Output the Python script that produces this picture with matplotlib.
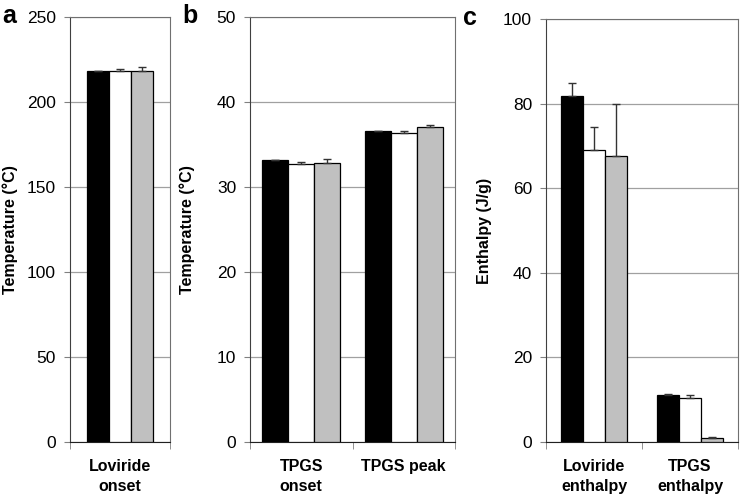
import numpy as np
import matplotlib.pyplot as plt

plt.rcParams['font.family'] = ['Liberation Sans', 'DejaVu Sans']

colors = ['black', 'white', '#c0c0c0']

# panel a: loviride onset temperature
cats_a = ['Loviride\nonset']
vals_a = [[218.3], [218.0], [218.2]]
errs_a = [[0.0], [1.5], [2.5]]

# panel b: TPGS temperatures
cats_b = ['TPGS\nonset', 'TPGS peak']
vals_b = [[33.2, 36.6], [32.7, 36.3], [32.8, 37.1]]
errs_b = [[0.0, 0.0], [0.2, 0.3], [0.5, 0.2]]

# panel c: enthalpies
cats_c = ['Loviride\nenthalpy', 'TPGS\nenthalpy']
vals_c = [[81.8, 11.1], [69.0, 10.5], [67.7, 1.0]]
errs_c = [[3.0, 0.2], [5.4, 0.6], [12.1, 0.3]]

W, H = 742, 497
fig = plt.figure(figsize=(W / 100, H / 100), dpi=100)


def px_axes(left, right, top, bottom):
    return fig.add_axes([left / W, 1 - bottom / H, (right - left) / W, (bottom - top) / H])


def draw(ax, cats, vals, errs, ymax, ystep, ylabel, group=0.68, ylsize=11, xlsize=11.5):
    n = len(vals)
    x = np.arange(len(cats))
    w = group / n
    for i in range(n):
        pos = x - group / 2 + w * (i + 0.5)
        ax.bar(pos, vals[i], w, color=colors[i], edgecolor='black', linewidth=0.9, zorder=3)
        ax.errorbar(pos, vals[i], yerr=[np.zeros(len(cats)), errs[i]], fmt='none',
                    ecolor='#333333', elinewidth=1.0, capsize=3, capthick=1.0, zorder=4)
    ax.set_xlim(-0.5, len(cats) - 0.5)
    ax.set_ylim(0, ymax)
    ax.set_yticks(np.arange(0, ymax + ystep / 2, ystep))
    ax.yaxis.grid(True, color='#a0a0a0', linewidth=0.9, zorder=0)
    ax.set_axisbelow(True)
    ax.set_xticks(x)
    ax.set_xticklabels(cats, fontweight='bold', fontsize=xlsize, linespacing=1.45)
    ax.tick_params(axis='x', length=0, pad=12)
    ax.set_xticks(np.arange(-0.5, len(cats)), minor=True)
    ax.tick_params(axis='x', which='minor', length=5, color='#808080')
    ax.tick_params(axis='y', length=4, color='#808080', labelsize=12.5, pad=6)
    for s in ax.spines.values():
        s.set_color('#707070')
    ax.spines['left'].set_color('#404040')
    ax.spines['bottom'].set_color('#202020')
    ax.set_ylabel(ylabel, fontweight='bold', fontsize=ylsize)
    return ax


ax_a = px_axes(70, 170, 17, 442)
draw(ax_a, cats_a, vals_a, errs_a, 250, 50, 'Temperature (°C)', group=0.66,
     ylsize=11.5, xlsize=11.5)
ax_a.yaxis.set_label_coords(-0.52, 0.5)
fig.text(2 / W, 1 - 4 / H, 'a', fontsize=18, fontweight='bold', va='top', ha='left')

ax_b = px_axes(250, 455, 17, 442)
draw(ax_b, cats_b, vals_b, errs_b, 50, 10, 'Temperature (°C)', group=0.76, ylsize=11.5)
ax_b.yaxis.set_label_coords(-0.27, 0.5)
fig.text(182 / W, 1 - 4 / H, 'b', fontsize=18, fontweight='bold', va='top', ha='left')

ax_c = px_axes(546, 738, 19, 442)
draw(ax_c, cats_c, vals_c, errs_c, 100, 20, 'Enthalpy (J/g)', group=0.68, ylsize=11.5)
ax_c.yaxis.set_label_coords(-0.28, 0.5)
fig.text(463 / W, 1 - 6 / H, 'c', fontsize=18, fontweight='bold', va='top', ha='left')

fig.savefig('out.png', dpi=100)
